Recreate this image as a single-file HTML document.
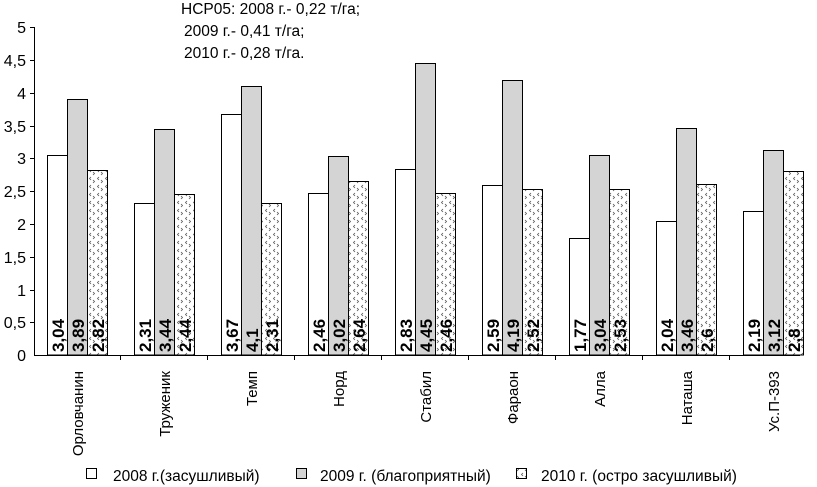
<!DOCTYPE html>
<html><head><meta charset="utf-8"><style>
body{margin:0;background:#fff}
svg{display:block;font-family:"Liberation Sans",Arial,sans-serif}
.w{fill:#fff;stroke:#000;stroke-width:1}
.g{fill:#d4d4d4;stroke:#000;stroke-width:1}
.h{fill:url(#p);stroke:#000;stroke-width:1}
.v{font-size:17px;font-weight:bold}
.c{font-size:15px}
.k{font-size:16px}
.l{font-size:15.5px}
.t{font-size:15.5px}
</style></head><body>
<svg width="817" height="487" viewBox="0 0 817 487">
<defs><pattern id="p" width="8" height="8" patternUnits="userSpaceOnUse"><rect width="8" height="8" fill="#fff"/><path d="M3 1 L1.5 2.5 L3 4 M5 4 L6.5 5.5 L5 7" stroke="#555" stroke-width="0.8" fill="none"/></pattern></defs>
<g stroke="#000" stroke-width="1">
<line x1="34.5" y1="27" x2="34.5" y2="355"/>
<line x1="34" y1="355.5" x2="800" y2="355.5"/>
<line x1="30" y1="27.5" x2="34" y2="27.5"/><line x1="30" y1="60.5" x2="34" y2="60.5"/><line x1="30" y1="93.5" x2="34" y2="93.5"/><line x1="30" y1="126.5" x2="34" y2="126.5"/><line x1="30" y1="158.5" x2="34" y2="158.5"/><line x1="30" y1="191.5" x2="34" y2="191.5"/><line x1="30" y1="224.5" x2="34" y2="224.5"/><line x1="30" y1="257.5" x2="34" y2="257.5"/><line x1="30" y1="290.5" x2="34" y2="290.5"/><line x1="30" y1="322.5" x2="34" y2="322.5"/>
<line x1="120.5" y1="355" x2="120.5" y2="360"/><line x1="207.5" y1="355" x2="207.5" y2="360"/><line x1="294.5" y1="355" x2="294.5" y2="360"/><line x1="381.5" y1="355" x2="381.5" y2="360"/><line x1="468.5" y1="355" x2="468.5" y2="360"/><line x1="555.5" y1="355" x2="555.5" y2="360"/><line x1="642.5" y1="355" x2="642.5" y2="360"/><line x1="729.5" y1="355" x2="729.5" y2="360"/>
</g>
<g class="k" text-anchor="end">
<text x="26" y="33">5</text><text x="26" y="66">4,5</text><text x="26" y="99">4</text><text x="26" y="132">3,5</text><text x="26" y="164">3</text><text x="26" y="197">2,5</text><text x="26" y="230">2</text><text x="26" y="263">1,5</text><text x="26" y="296">1</text><text x="26" y="328">0,5</text><text x="26" y="361">0</text>
</g>
<text class="t" x="181" y="14">НСР05: 2008 г.- 0,22 т/га;</text>
<text class="t" x="184" y="36">2009 г.- 0,41 т/га;</text>
<text class="t" x="184" y="58">2010 г.-  0,28 т/га.</text>

<rect class="w" x="47.5" y="155.5" width="20" height="199.5"/><rect class="g" x="67.5" y="99.5" width="20" height="255.5"/><rect class="h" x="87.5" y="170.5" width="20" height="184.5"/>
<rect class="w" x="134.5" y="203.5" width="20" height="151.5"/><rect class="g" x="154.5" y="129.5" width="20" height="225.5"/><rect class="h" x="174.5" y="194.5" width="20" height="160.5"/>
<rect class="w" x="221.5" y="114.5" width="20" height="240.5"/><rect class="g" x="241.5" y="86.5" width="20" height="268.5"/><rect class="h" x="261.5" y="203.5" width="20" height="151.5"/>
<rect class="w" x="308.5" y="193.5" width="20" height="161.5"/><rect class="g" x="328.5" y="156.5" width="20" height="198.5"/><rect class="h" x="348.5" y="181.5" width="20" height="173.5"/>
<rect class="w" x="395.5" y="169.5" width="20" height="185.5"/><rect class="g" x="415.5" y="63.5" width="20" height="291.5"/><rect class="h" x="435.5" y="193.5" width="20" height="161.5"/>
<rect class="w" x="482.5" y="185.5" width="20" height="169.5"/><rect class="g" x="502.5" y="80.5" width="20" height="274.5"/><rect class="h" x="522.5" y="189.5" width="20" height="165.5"/>
<rect class="w" x="569.5" y="238.5" width="20" height="116.5"/><rect class="g" x="589.5" y="155.5" width="20" height="199.5"/><rect class="h" x="609.5" y="189.5" width="20" height="165.5"/>
<rect class="w" x="656.5" y="221.5" width="20" height="133.5"/><rect class="g" x="676.5" y="128.5" width="20" height="226.5"/><rect class="h" x="696.5" y="184.5" width="20" height="170.5"/>
<rect class="w" x="743.5" y="211.5" width="20" height="143.5"/><rect class="g" x="763.5" y="150.5" width="20" height="204.5"/><rect class="h" x="783.5" y="171.5" width="20" height="183.5"/>

<g class="v">
<text transform="translate(64,352) rotate(-90)">3,04</text><text transform="translate(84,352) rotate(-90)">3,89</text><text transform="translate(104,352) rotate(-90)">2,82</text>
<text transform="translate(151,352) rotate(-90)">2,31</text><text transform="translate(171,352) rotate(-90)">3,44</text><text transform="translate(191,352) rotate(-90)">2,44</text>
<text transform="translate(238,352) rotate(-90)">3,67</text><text transform="translate(258,352) rotate(-90)">4,1</text><text transform="translate(278,352) rotate(-90)">2,31</text>
<text transform="translate(325,352) rotate(-90)">2,46</text><text transform="translate(345,352) rotate(-90)">3,02</text><text transform="translate(365,352) rotate(-90)">2,64</text>
<text transform="translate(412,352) rotate(-90)">2,83</text><text transform="translate(432,352) rotate(-90)">4,45</text><text transform="translate(452,352) rotate(-90)">2,46</text>
<text transform="translate(499,352) rotate(-90)">2,59</text><text transform="translate(519,352) rotate(-90)">4,19</text><text transform="translate(539,352) rotate(-90)">2,52</text>
<text transform="translate(586,352) rotate(-90)">1,77</text><text transform="translate(606,352) rotate(-90)">3,04</text><text transform="translate(626,352) rotate(-90)">2,53</text>
<text transform="translate(673,352) rotate(-90)">2,04</text><text transform="translate(693,352) rotate(-90)">3,46</text><text transform="translate(713,352) rotate(-90)">2,6</text>
<text transform="translate(760,352) rotate(-90)">2,19</text><text transform="translate(780,352) rotate(-90)">3,12</text><text transform="translate(800,352) rotate(-90)">2,8</text>
</g>
<g class="c" text-anchor="end">
<text transform="translate(83,371) rotate(-90)">Орловчанин</text>
<text transform="translate(170,371) rotate(-90)">Труженик</text>
<text transform="translate(257,371) rotate(-90)">Темп</text>
<text transform="translate(344,371) rotate(-90)">Норд</text>
<text transform="translate(431,371) rotate(-90)">Стабил</text>
<text transform="translate(518,371) rotate(-90)">Фараон</text>
<text transform="translate(605,371) rotate(-90)">Алла</text>
<text transform="translate(692,371) rotate(-90)">Наташа</text>
<text transform="translate(779,371) rotate(-90)">Ус.П-393</text>
</g>
<rect class="w" x="86.5" y="468.5" width="10" height="10"/>
<text class="l" x="113" y="481">2008 г.(засушливый)</text>
<rect class="g" x="296.5" y="468.5" width="10" height="10"/>
<text class="l" x="320" y="481">2009 г. (благоприятный)</text>
<rect class="h" x="516.5" y="468.5" width="10" height="10"/>
<text class="l" x="541" y="481">2010 г. (остро засушливый)</text>
</svg>
</body></html>
